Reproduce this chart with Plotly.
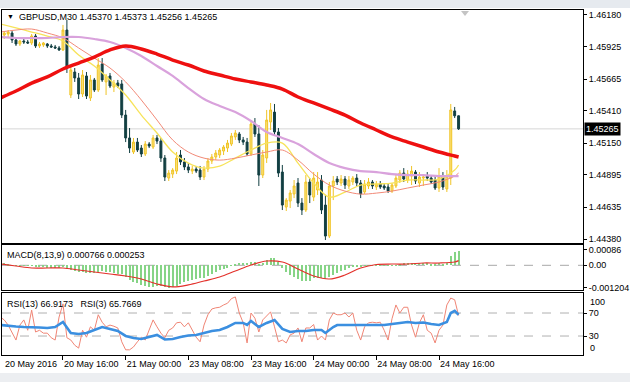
import plotly.graph_objects as go

# ---------------- data ----------------
bar_idx = list(range(118))
open_ = [1.45995,1.46019,1.46027,1.46035,1.45979,1.45947,1.45971,1.45963,1.45955,1.46011,
         1.45931,1.45939,1.45947,1.45931,1.45923,1.45915,1.45899,1.46059,1.45537,1.45722,
         1.45674,1.45545,1.45690,1.45513,1.45658,1.45577,1.45786,1.45642,1.45690,1.45601,
         1.45634,1.45626,1.45376,1.45192,1.45079,1.45159,1.45111,1.45063,1.45143,1.45119,
         1.45192,1.45167,1.45031,1.44870,1.44902,1.44926,1.45055,1.44999,1.44959,1.44926,
         1.44942,1.44934,1.44878,1.44942,1.45007,1.45039,1.45055,1.45087,1.45111,1.45143,
         1.45200,1.45224,1.45176,1.45159,1.45063,1.45304,1.45224,1.44894,1.45031,1.45320,
         1.45400,1.45240,1.44918,1.44637,1.44685,1.44742,1.44830,1.44669,1.44613,1.44838,
         1.44717,1.44774,1.44854,1.44653,1.44404,1.44806,1.44862,1.44830,1.44862,1.44806,
         1.44838,1.44870,1.44830,1.44758,1.44806,1.44838,1.44798,1.44822,1.44806,1.44798,
         1.44766,1.44806,1.44854,1.44910,1.44854,1.44886,1.44918,1.44830,1.44870,1.44886,
         1.44870,1.44854,1.44790,1.44878,1.44782,1.44870,1.45409,1.45370]
high = [1.46043,1.46051,1.46059,1.46051,1.46003,1.45979,1.45987,1.45979,1.46027,1.46027,
        1.45963,1.45963,1.45955,1.45947,1.45939,1.45931,1.46100,1.46140,1.45778,1.45754,
        1.45714,1.45738,1.45722,1.45698,1.45674,1.45834,1.45834,1.45706,1.45714,1.45658,
        1.45658,1.45658,1.45417,1.45272,1.45192,1.45192,1.45135,1.45167,1.45159,1.45216,
        1.45216,1.45192,1.45055,1.44934,1.44950,1.45079,1.45095,1.45031,1.44991,1.44967,
        1.44967,1.44967,1.44967,1.45031,1.45063,1.45095,1.45111,1.45135,1.45176,1.45232,
        1.45256,1.45240,1.45200,1.45192,1.45336,1.45352,1.45296,1.45095,1.45417,1.45473,
        1.45465,1.45272,1.44975,1.44709,1.44774,1.44854,1.44870,1.44709,1.44894,1.44870,
        1.44918,1.44918,1.44894,1.44734,1.44838,1.44886,1.44886,1.44894,1.44886,1.44886,
        1.44886,1.44902,1.44854,1.44854,1.44870,1.44854,1.44846,1.44846,1.44830,1.44822,
        1.44830,1.44894,1.44934,1.44950,1.44934,1.44967,1.44934,1.44918,1.44894,1.44918,
        1.44894,1.44886,1.44950,1.44918,1.44934,1.45465,1.45441,1.45373]
low = [1.45979,1.45987,1.46003,1.45955,1.45931,1.45931,1.45947,1.45947,1.45939,1.45915,
       1.45915,1.45923,1.45915,1.45915,1.45907,1.45891,1.45891,1.45714,1.45513,1.45642,
       1.45505,1.45521,1.45505,1.45489,1.45561,1.45561,1.45642,1.45537,1.45593,1.45561,
       1.45593,1.45352,1.45159,1.45071,1.45063,1.45079,1.45039,1.45047,1.45111,1.45103,
       1.45143,1.44999,1.44846,1.44846,1.44870,1.44902,1.44975,1.44934,1.44910,1.44902,
       1.44910,1.44854,1.44854,1.44918,1.44983,1.45015,1.45031,1.45055,1.45079,1.45127,
       1.45176,1.45151,1.45135,1.45047,1.45047,1.45200,1.44806,1.44870,1.44991,1.45256,
       1.45216,1.44878,1.44613,1.44605,1.44629,1.44709,1.44637,1.44573,1.44597,1.44669,
       1.44685,1.44734,1.44581,1.44372,1.44388,1.44693,1.44814,1.44806,1.44782,1.44782,
       1.44814,1.44806,1.44709,1.44742,1.44782,1.44782,1.44774,1.44782,1.44774,1.44750,
       1.44750,1.44790,1.44830,1.44838,1.44830,1.44814,1.44822,1.44798,1.44806,1.44846,
       1.44822,1.44774,1.44758,1.44774,1.44758,1.44814,1.45352,1.45256]
close = [1.46027,1.46035,1.46043,1.45979,1.45947,1.45971,1.45963,1.45955,1.46011,1.45931,
         1.45947,1.45955,1.45931,1.45923,1.45915,1.45899,1.46059,1.45754,1.45738,1.45674,
         1.45545,1.45698,1.45529,1.45658,1.45577,1.45778,1.45658,1.45690,1.45609,1.45634,
         1.45609,1.45376,1.45192,1.45111,1.45159,1.45095,1.45063,1.45143,1.45127,1.45192,
         1.45167,1.45031,1.44878,1.44910,1.44934,1.45031,1.44999,1.44959,1.44934,1.44942,
         1.44926,1.44878,1.44942,1.45007,1.45039,1.45071,1.45095,1.45119,1.45151,1.45208,
         1.45232,1.45176,1.45159,1.45063,1.45304,1.45224,1.44894,1.45055,1.45336,1.45417,
         1.45240,1.44910,1.44653,1.44693,1.44750,1.44806,1.44669,1.44613,1.44838,1.44734,
         1.44870,1.44838,1.44613,1.44404,1.44806,1.44846,1.44838,1.44862,1.44814,1.44854,
         1.44870,1.44830,1.44742,1.44822,1.44838,1.44806,1.44822,1.44798,1.44790,1.44766,
         1.44814,1.44870,1.44910,1.44862,1.44902,1.44926,1.44846,1.44878,1.44878,1.44870,
         1.44838,1.44790,1.44886,1.44798,1.44886,1.45417,1.45370,1.45265]

# moving averages, read at every 4th bar
ma_idx = [0,4,8,12,16,20,24,28,32,36,40,44,48,52,56,60,64,68,72,76,80,84,88,92,96,100,104,108,112,116,117]
ma_slow = [1.45513,1.45569,1.45633,1.45682,1.45746,1.45794,1.45842,1.45899,1.45931,1.45907,
           1.45866,1.45818,1.45778,1.45730,1.45698,1.45666,1.45642,1.45617,1.45585,1.45521,
           1.45473,1.45425,1.45376,1.45312,1.45256,1.45200,1.45159,1.45119,1.45079,1.45047,1.45039]
ma_mid = [1.46003,1.45995,1.45995,1.45995,1.46003,1.46003,1.45987,1.45963,1.45915,1.45850,
          1.45770,1.45690,1.45593,1.45505,1.45449,1.45400,1.45328,1.45240,1.45192,1.45143,
          1.45063,1.44991,1.44950,1.44926,1.44918,1.44902,1.44894,1.44894,1.44886,1.44886,1.44886]
ma_21 = [1.46043,1.46059,1.46067,1.46035,1.45995,1.45915,1.45834,1.45754,1.45642,1.45497,
         1.45336,1.45176,1.45079,1.45030,1.45014,1.45030,1.45055,1.45079,1.45095,1.45014,
         1.44902,1.44814,1.44765,1.44741,1.44749,1.44765,1.44790,1.44814,1.44838,1.44886,1.44910]
ma_fast = [1.46108,1.46076,1.46043,1.46011,1.45971,1.45858,1.45770,1.45658,1.45537,1.45376,
           1.45232,1.45079,1.44990,1.44950,1.44966,1.45030,1.45095,1.45151,1.45151,1.44990,
           1.44830,1.44717,1.44757,1.44814,1.44822,1.44830,1.44854,1.44854,1.44862,1.44934,1.44975]

macd_hist = [1.24e-4,1.24e-4,0.70e-4,0.16e-4,-0.38e-4,-0.38e-4,-0.38e-4,-0.38e-4,-0.38e-4,-0.92e-4,
             -0.92e-4,-0.92e-4,-1.46e-4,-1.46e-4,-1.46e-4,-1.5e-4,-0.4e-4,-1.9e-4,-2.54e-4,-3.08e-4,
             -3.62e-4,-3.62e-4,-4.16e-4,-4.16e-4,-4.16e-4,-3.62e-4,-3.08e-4,-3.62e-4,-3.62e-4,-4.16e-4,
             -4.70e-4,-4.70e-4,-6.32e-4,-7.95e-4,-9.03e-4,-9.57e-4,-10.6e-4,-11.2e-4,-11.7e-4,-11.7e-4,
             -11.2e-4,-11.2e-4,-11.7e-4,-12.04e-4,-11.7e-4,-11.2e-4,-10.1e-4,-9.03e-4,-8.49e-4,-7.95e-4,
             -7.41e-4,-6.86e-4,-6.86e-4,-5.78e-4,-4.70e-4,-3.62e-4,-2.54e-4,-2.00e-4,-1.46e-4,-0.38e-4,
             0.70e-4,1.24e-4,1.24e-4,1.24e-4,1.78e-4,1.78e-4,0.70e-4,1.24e-4,2.86e-4,3.95e-4,
             3.95e-4,1.78e-4,-1.46e-4,-3.62e-4,-5.24e-4,-6.32e-4,-7.41e-4,-8.49e-4,-8.49e-4,-8.49e-4,
             -7.0e-4,-6.8e-4,-6.8e-4,-7.2e-4,-6.3e-4,-5.2e-4,-4.2e-4,-3.2e-4,-2.3e-4,-1.46e-4,
             -0.92e-4,-0.92e-4,-0.92e-4,-0.38e-4,-0.38e-4,-0.38e-4,-0.38e-4,-0.38e-4,-0.38e-4,-0.38e-4,
             -0.11e-4,0.16e-4,0.70e-4,1.24e-4,1.24e-4,1.24e-4,1.24e-4,1.24e-4,1.24e-4,1.24e-4,
             0.70e-4,0.70e-4,1.24e-4,0.70e-4,1.24e-4,5.0e-4,7.0e-4,7.66e-4]
macd_signal = [0.70e-4,-0.38e-4,-1.46e-4,-1.46e-4,-1.46e-4,-2.54e-4,-3.62e-4,-4.70e-4,-5.78e-4,-7.41e-4,
               -10.1e-4,-11.7e-4,-10.6e-4,-8.49e-4,-6.32e-4,-3.08e-4,0.16e-4,2.32e-4,1.78e-4,-2.0e-4,
               -5.78e-4,-7.41e-4,-5.24e-4,-1.46e-4,0.43e-4,0.70e-4,0.70e-4,1.24e-4,1.24e-4,1.78e-4,2.53e-4]

rsi3 = [63,58,49,35,23,49,58,40,75,37,40,35,35,27,23,63,86,27,23,14,
        9,40,28,46,40,67,54,46,49,47,44,20,6,6,11,20,28,23,40,58,
        46,35,27,40,44,53,54,46,53,40,28,20,49,67,77,79,80,84,87,95,
        98,70,53,18,70,61,37,58,65,72,46,20,23,18,32,35,44,20,44,44,
        50,23,30,23,58,70,67,67,70,63,70,40,23,46,53,54,53,54,40,23,
        60,84,70,80,80,49,28,53,67,40,35,18,40,49,84,96,93,65.7669]
rsi13_idx = [0,2,4,6,8,10,12,14,16,17,18,20,22,24,26,28,30,32,34,36,38,40,42,44,46,48,50,52,54,56,
             58,60,62,63,64,66,68,70,72,74,76,78,80,82,83,85,86,88,90,92,94,96,98,100,102,104,106,108,
             110,112,114,115,116,117]
rsi13 = [49.2,47.5,46.6,45.7,45.7,44.9,44.0,45.7,54.4,44.0,35.3,33.6,35.3,40.5,45.7,42.3,38.8,30.1,26.6,24.9,
         28.3,31.8,24.0,24.9,28.3,31.0,31.8,35.3,38.8,40.5,45.7,52.7,52.7,49.2,56.2,45.7,52.7,57.9,42.3,37.0,
         38.8,38.8,40.5,40.5,35.3,45.7,49.2,49.2,49.2,48.3,49.2,49.2,49.2,51.0,52.7,54.4,52.7,53.6,51.0,49.2,
         54.4,70.0,73.6,66.9173]

price_ticks = [1.46180,1.45925,1.45665,1.45410,1.45150,1.44895,1.44635,1.44380]
macd_ticks = [0.00086, 0.0, -0.001204]
macd_tick_text = ["0.00086", "0.00", "-0.001204"]
time_tick_bars = [16,32,48,64,80,96,112]
time_tick_text = ["20 May 16:00","21 May 00:00","23 May 08:00","23 May 16:00",
                  "24 May 00:00","24 May 08:00","24 May 16:00"]
first_label = "20 May 2016"
symbol_title = "GBPUSD,M30 1.45370 1.45373 1.45256 1.45265"
last_price = 1.45265

# ---------------- layout helpers ----------------
W, H = 630, 382
ML, MR, MT, MB = 2, 47, 10, 27
PW, PH = W - ML - MR, H - MT - MB
def px(x):
    return (x - ML) / PW
def py(y):
    return (H - MB - y) / PH

FONT = "Liberation Sans, Arial, sans-serif"
XR = [0.43, 148.76]

fig = go.Figure()
fig.add_trace(go.Candlestick(
    x=bar_idx, open=open_, high=high, low=low, close=close,
    xaxis="x", yaxis="y", whiskerwidth=0,
    increasing=dict(line=dict(color="#f0c426", width=1), fillcolor="#fbe27c"),
    decreasing=dict(line=dict(color="#123f42", width=1), fillcolor="#123f42"),
    hoverinfo="skip"))
fig.add_trace(go.Scatter(x=ma_idx, y=ma_fast, mode="lines", line=dict(color="#f7e35a", width=1.3, shape="spline"),
                         xaxis="x", yaxis="y", hoverinfo="skip"))
fig.add_trace(go.Scatter(x=ma_idx, y=ma_21, mode="lines", line=dict(color="#f28a78", width=1, shape="spline"),
                         xaxis="x", yaxis="y", hoverinfo="skip"))
fig.add_trace(go.Scatter(x=ma_idx, y=ma_mid, mode="lines", line=dict(color="#d9a2dc", width=2.2, shape="spline"),
                         xaxis="x", yaxis="y", hoverinfo="skip"))
fig.add_trace(go.Scatter(x=ma_idx, y=ma_slow, mode="lines", line=dict(color="#ee1010", width=3.5, shape="spline"),
                         xaxis="x", yaxis="y", hoverinfo="skip"))

fig.add_trace(go.Bar(x=bar_idx, y=macd_hist, width=0.28, marker=dict(color="#86d486", line=dict(width=0)),
                     xaxis="x2", yaxis="y2", hoverinfo="skip"))
fig.add_trace(go.Scatter(x=ma_idx, y=macd_signal, mode="lines", line=dict(color="#e3312b", width=1.2, shape="spline"),
                         xaxis="x2", yaxis="y2", hoverinfo="skip"))

fig.add_trace(go.Scatter(x=bar_idx, y=rsi3, mode="lines", line=dict(color="#f08575", width=1),
                         xaxis="x3", yaxis="y3", hoverinfo="skip"))
fig.add_trace(go.Scatter(x=rsi13_idx, y=rsi13, mode="lines", line=dict(color="#3b8fe0", width=2.6),
                         xaxis="x3", yaxis="y3", hoverinfo="skip"))

box = dict(showline=True, mirror=True, linecolor="black", linewidth=1, showgrid=False, zeroline=False,
           automargin=False)
tickfont = dict(family=FONT, size=9, color="black")

fig.update_layout(
    width=W, height=H, margin=dict(l=ML, r=MR, t=MT, b=MB, autoexpand=False),
    paper_bgcolor="white", plot_bgcolor="white", showlegend=False,
    font=dict(family=FONT, size=9, color="black"), bargap=0,
    xaxis=dict(domain=[0, 1], anchor="y", range=XR, showticklabels=False, ticks="",
               rangeslider=dict(visible=False), **box),
    xaxis2=dict(domain=[0, 1], anchor="y2", matches="x", range=XR, showticklabels=False, ticks="", **box),
    xaxis3=dict(domain=[0, 1], anchor="y3", matches="x", range=XR, tickvals=time_tick_bars,
                ticktext=time_tick_text, ticks="outside", ticklen=4, tickcolor="black", tickangle=0,
                ticklabelposition="outside right", tickfont=tickfont, **box),
    yaxis=dict(domain=[0.3246, 1], anchor="x", side="right", range=[1.44348, 1.46220],
               tickvals=price_ticks, ticktext=["%.5f" % v for v in price_ticks],
               ticks="outside", ticklen=3, tickcolor="black", tickfont=tickfont, **box),
    yaxis2=dict(domain=[0.1884, 0.3188], anchor="x2", side="right", range=[-0.001335, 0.001097],
                tickvals=macd_ticks, ticktext=macd_tick_text,
                ticks="outside", ticklen=3, tickcolor="black", tickfont=tickfont, **box),
    yaxis3=dict(domain=[0, 0.1797], anchor="x3", side="right", range=[-3.0, 104.8],
                tickvals=[70, 30], ticktext=["70", "30"],
                ticks="outside", ticklen=3, tickcolor="black", tickfont=tickfont, **box),
)

shapes = [
    dict(type="line", xref="paper", x0=0, x1=1, yref="y", y0=last_price, y1=last_price,
         line=dict(color="#d6d6d6", width=1), layer="below"),
    dict(type="line", xref="paper", x0=0, x1=1, yref="y2", y0=0, y1=0,
         line=dict(color="#a8a8a8", width=1, dash="dash"), layer="below"),
    dict(type="line", xref="paper", x0=0, x1=1, yref="y3", y0=70, y1=70,
         line=dict(color="#b0b0b0", width=1, dash="dash"), layer="below"),
    dict(type="line", xref="paper", x0=0, x1=1, yref="y3", y0=30, y1=30,
         line=dict(color="#b0b0b0", width=1, dash="dash"), layer="below"),
    # window frame bands
    dict(type="rect", xref="paper", yref="paper", x0=px(0), x1=px(630), y0=py(0), y1=py(8),
         fillcolor="#e6eaef", line=dict(width=0)),
    dict(type="rect", xref="paper", yref="paper", x0=px(0), x1=px(630), y0=py(373), y1=py(382),
         fillcolor="#eceef1", line=dict(width=0)),
    # chart shift marker
    dict(type="path", xref="paper", yref="paper",
         path="M %f,%f L %f,%f L %f,%f Z" % (px(461), py(11), px(469), py(11), px(465), py(16)),
         fillcolor="#c4c4c4", line=dict(width=0)),
]
fig.update_layout(shapes=shapes)

ann = [
    dict(text="\u25bc", x=px(5), y=py(17), xanchor="left", yanchor="middle", font=dict(size=7, color="black")),
    dict(text=symbol_title, x=px(17), y=py(17), xanchor="left", yanchor="middle"),
    dict(text="MACD(8,13,9) 0.000766 0.000253", x=px(5), y=py(255), xanchor="left", yanchor="middle"),
    dict(text="RSI(13) 66.9173\u00a0\u00a0 RSI(3) 65.7669", x=px(5), y=py(304), xanchor="left", yanchor="middle"),
    dict(text="%.5f" % last_price, x=px(584), y=last_price, yref="y", xanchor="left", yanchor="middle",
         bgcolor="black", font=dict(color="white", size=9), borderpad=1),
    dict(text="100", x=px(588), y=py(302), xanchor="left", yanchor="middle"),
    dict(text="0", x=px(588), y=py(348), xanchor="left", yanchor="middle"),
    dict(text=first_label, x=px(3), y=py(364), xanchor="left", yanchor="middle"),
]
for a in ann:
    a.setdefault("xref", "paper")
    a.setdefault("yref", "paper")
    a["showarrow"] = False
    a.setdefault("font", dict(family=FONT, size=9, color="black"))
    a["font"].setdefault("family", FONT)
    a["font"].setdefault("size", 9)
fig.update_layout(annotations=ann)

fig.write_html("out.html")
